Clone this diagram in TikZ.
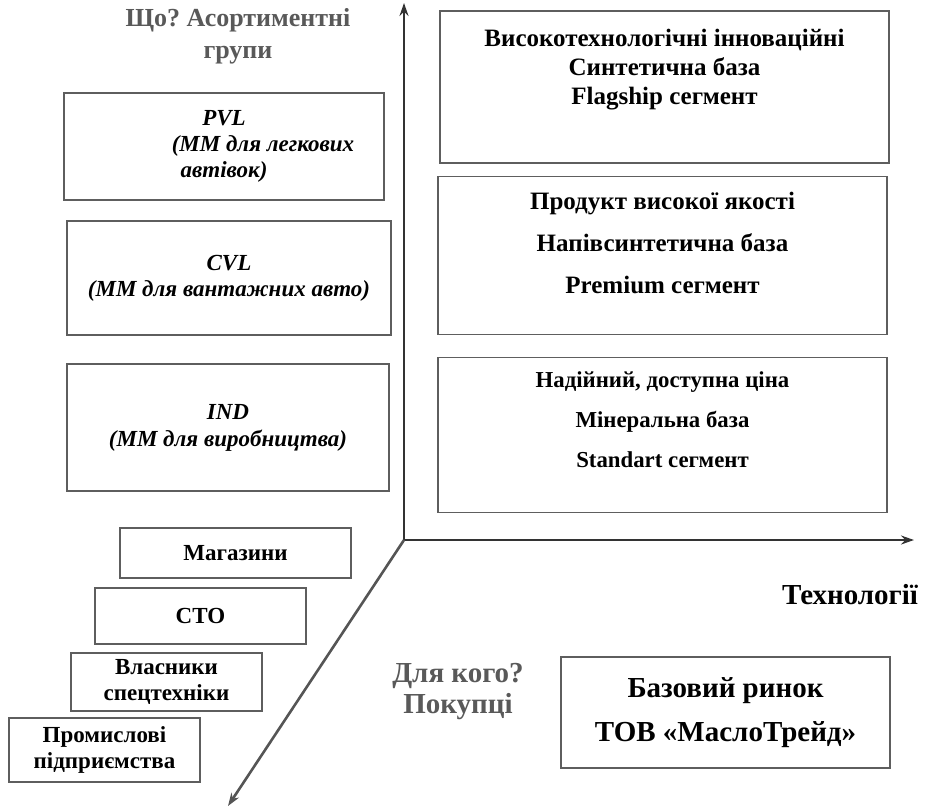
\documentclass[tikz,border=0pt]{standalone}
\usepackage{fontspec}
\setmainfont{Liberation Serif}
\usepackage{xcolor}
\usetikzlibrary{positioning, arrows.meta}
\definecolor{axisdark}{HTML}{333333}
\definecolor{axismid}{HTML}{555555}
\definecolor{framegray}{HTML}{5E5E5E}
\definecolor{askgray}{HTML}{595959}
\frenchspacing
\tikzset{
    segbox/.style={rectangle, draw=framegray, line width=1.2pt, minimum width=449pt, inner sep=0pt},
    segtext/.style={align=center, inner sep=0pt, font=\bfseries\fontsize{25}{29}\selectfont},
    grpbox/.style={rectangle, draw=framegray, line width=1.2pt, align=center, inner sep=0pt, font=\bfseries\itshape\fontsize{23}{26}\selectfont},
    buyerbox/.style={rectangle, draw=framegray, line width=1.2pt, align=center, inner sep=0pt, font=\bfseries\fontsize{23}{26}\selectfont},
    marketbox/.style={rectangle, draw=framegray, line width=1.2pt, align=center, inner sep=0pt, font=\bfseries\fontsize{29}{44}\selectfont},
    ask/.style={align=center, inner sep=0pt, text=askgray, font=\bfseries\fontsize{26}{32}\selectfont},
    axislabel/.style={inner sep=0pt, font=\bfseries\fontsize{29}{32}\selectfont},
    axis/.style={-{Stealth[length=13pt, width=9pt]}, line width=2.6pt, draw=axisdark}
}

\begin{document}
\begin{tikzpicture}[x=1pt, y=-1pt]
    \useasboundingbox (0,0) rectangle (925,808);

    % Axes
    \coordinate (O) at (404,540);
    \coordinate (Ytip) at (404,3);
    \coordinate (Xtip) at (914,540);
    \coordinate (Ztip) at (228,806);
    \draw[axis] (O) -- (Ytip);
    \draw[axis] (O) -- (Xtip);
    \draw[axis, draw=axismid] (O) -- (Ztip);

    % Segments by technology
    \node[segbox, minimum height=152pt] (Flag) at (664.5,87) {};
    \node[segbox, minimum height=158pt, below=12pt of Flag, xshift=-2pt] (Prem) {};
    \node[segbox, minimum height=155pt, below=22pt of Prem] (Stand) {};
    \node[segtext] (FlagTxt) at ([yshift=17pt]Flag.center) {Високотехнологічні інноваційні\\Синтетична база\\Flagship сегмент};
    \node[segtext, font=\bfseries\fontsize{25}{42}\selectfont] (PremTxt) at ([yshift=12pt]Prem.center) {Продукт високої якості\\Напівсинтетична база\\Premium сегмент};
    \node[segtext, font=\bfseries\fontsize{22.8}{40}\selectfont] (StandTxt) at ([yshift=15pt]Stand.center) {Надійний, доступна ціна\\Мінеральна база\\Standart сегмент};
    \node[axislabel] (Tech) at (850,595) {Технології};

    % Product groups
    \node[ask] (What) at (238,36) {Що? Асортиментні\\групи};
    \node[grpbox, minimum width=320pt, minimum height=107pt] (PVL) at (224,146.5) {PVL\\\hspace*{78pt}(ММ для легкових\\автівок)};
    \node[grpbox, minimum width=324pt, minimum height=114pt] (CVL) at (229,278) {CVL\\(ММ для вантажних авто)};
    \node[grpbox, minimum width=322pt, minimum height=127pt, font=\bfseries\itshape\fontsize{23}{27}\selectfont] (IND) at (228,427.5) {IND\\(ММ для виробництва)};

    % Buyers
    \node[buyerbox, minimum width=231pt, minimum height=50pt] (Shops) at (235.5,553) {Магазини};
    \node[buyerbox, minimum width=211pt, minimum height=56pt] (Service) at (200.5,616) {СТО};
    \node[buyerbox, minimum width=191pt, minimum height=58pt] (Owners) at (166.5,682) {Власники\\спецтехніки};
    \node[buyerbox, minimum width=191pt, minimum height=64pt] (Plants) at (104.5,750) {Промислові\\підприємства};
    \node[ask, font=\bfseries\fontsize{29}{31}\selectfont] (Whom) at (458,692) {Для кого?\\Покупці};

    % Base market
    \node[marketbox, minimum width=329pt, minimum height=111pt] (Market) at (725.5,712.5) {Базовий ринок\\ТОВ «МаслоТрейд»};
\end{tikzpicture}
\end{document}
